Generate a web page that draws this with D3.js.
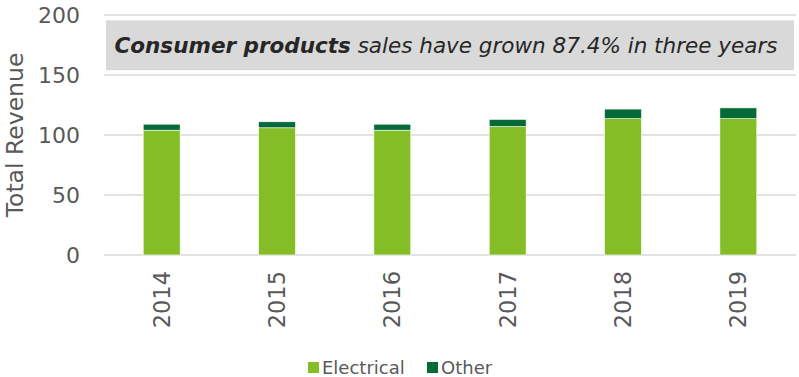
<!DOCTYPE html>
<html>
<head>
<meta charset="utf-8">
<script src="https://cdn.jsdelivr.net/npm/d3@7"></script>
<style>
  body { margin: 0; background: #fff; }
  text { font-family: "DejaVu Sans", Verdana, sans-serif; }
</style>
</head>
<body>
<div id="chart"></div>
<script>
var years = ["2014", "2015", "2016", "2017", "2018", "2019"];
var electrical = [104, 106, 104, 107, 113.6, 113.6];
var other = [5, 5, 5, 6, 8, 9];
var yTicks = [0, 50, 100, 150, 200];
var seriesNames = ["Electrical", "Other"];
var colors = ["#84bd26", "#046a38"];

var W = 799, H = 377;
var margin = {top: 15, right: 3, bottom: 122, left: 104},
    width = W - margin.left - margin.right,
    height = H - margin.top - margin.bottom;

var svg = d3.select("#chart").append("svg")
    .attr("width", W).attr("height", H);
var g = svg.append("g")
    .attr("transform", "translate(" + margin.left + "," + margin.top + ")");

var x = d3.scaleBand().domain(years).range([0, width]).paddingInner(0.68).paddingOuter(0.34);
var y = d3.scaleLinear().domain([0, 200]).range([height, 0]);

// gridlines
g.selectAll(".grid").data(yTicks).enter().append("line")
    .attr("x1", 0).attr("x2", width)
    .attr("y1", function(d) { return y(d); })
    .attr("y2", function(d) { return y(d); })
    .attr("stroke", "#d9d9d9").attr("stroke-width", 1.5);

// y tick labels
g.selectAll(".ytick").data(yTicks).enter().append("text")
    .attr("x", -24).attr("y", function(d) { return y(d); })
    .attr("dy", "0.36em")
    .attr("text-anchor", "end")
    .attr("fill", "#595959").attr("font-size", "22px")
    .text(function(d) { return d; });

// y label
svg.append("text")
    .attr("transform", "translate(23," + (margin.top + height / 2) + ") rotate(-90)")
    .attr("text-anchor", "middle")
    .attr("fill", "#595959").attr("font-size", "23.5px")
    .text("Total Revenue");

// stacked bars
var rows = years.map(function(yr, i) { return {year: yr, Electrical: electrical[i], Other: other[i]}; });
var stack = d3.stack().keys(seriesNames)(rows);

g.selectAll(".series").data(stack).enter().append("g")
    .attr("fill", function(d, i) { return colors[i]; })
  .selectAll("rect").data(function(d) { return d; }).enter().append("rect")
    .attr("x", function(d) { return x(d.data.year); })
    .attr("y", function(d) { return y(d[1]); })
    .attr("width", x.bandwidth())
    .attr("height", function(d) { return y(d[0]) - y(d[1]); })
    .attr("stroke", "#fff").attr("stroke-width", 0.6);

// x labels
g.selectAll(".xtick").data(years).enter().append("text")
    .attr("transform", function(d) {
      return "translate(" + (x(d) + x.bandwidth() / 2) + "," + (height + 16) + ") rotate(-90)";
    })
    .attr("dy", "0.36em")
    .attr("text-anchor", "end")
    .attr("fill", "#595959").attr("font-size", "22.5px")
    .text(function(d) { return d; });

// annotation box
g.append("rect")
    .attr("x", 2).attr("y", y(195.5))
    .attr("width", width - 4).attr("height", y(154) - y(195.5))
    .attr("fill", "#d9d9d9");

var note = g.append("text")
    .attr("x", width / 2 - 4).attr("y", y(175))
    .attr("dy", "0.36em")
    .attr("text-anchor", "middle")
    .attr("fill", "#262626").attr("font-size", "21.5px")
    .attr("font-style", "italic");
note.append("tspan").attr("font-weight", "bold").text("Consumer products");
note.append("tspan").text(" sales have grown 87.4% in three years");

// legend
var legend = svg.append("g").attr("transform", "translate(308,368)");
var lx = [0, 119];
seriesNames.forEach(function(n, i) {
  legend.append("rect").attr("x", lx[i]).attr("y", -6).attr("width", 11).attr("height", 11).attr("fill", colors[i]);
  legend.append("text").attr("x", lx[i] + 14).attr("y", 0).attr("dy", "0.36em")
    .attr("fill", "#595959").attr("font-size", "18px").text(n);
});
</script>
</body>
</html>
